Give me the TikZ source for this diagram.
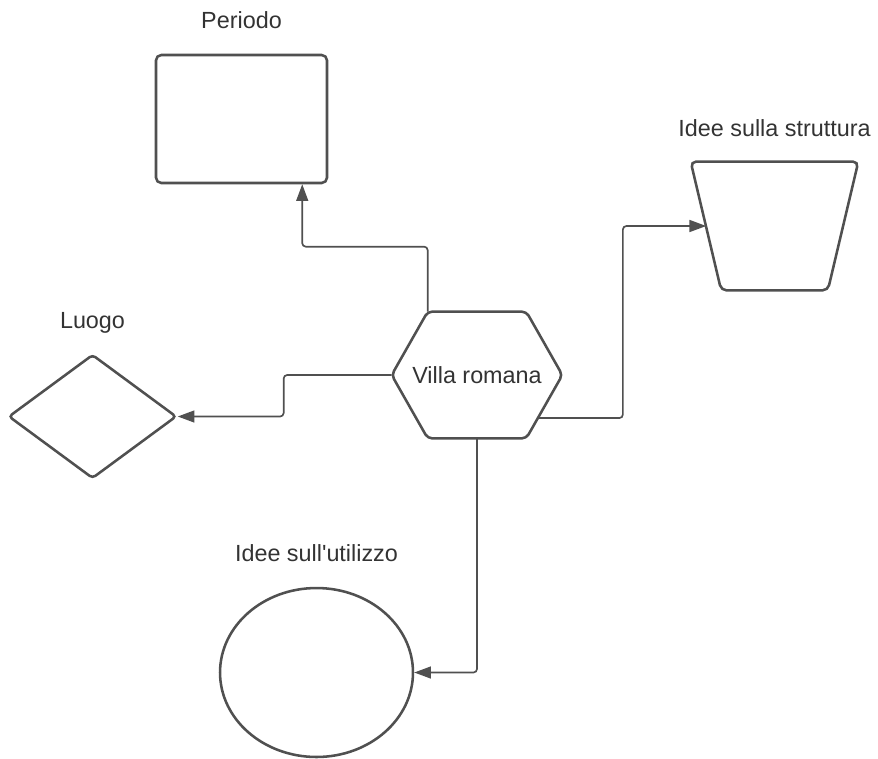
\documentclass[tikz,border=0pt]{standalone}
\usepackage{fontspec}
\setmainfont{Liberation Sans}
\usetikzlibrary{calc, positioning, shapes.geometric, arrows.meta}
\definecolor{linegray}{HTML}{505050}
\definecolor{textgray}{HTML}{333333}

\begin{document}
\begin{tikzpicture}[x=0.02cm, y=-0.02cm,
    shapebox/.style={draw=linegray, line width=1.45pt, inner sep=0pt},
    lbl/.style={text=textgray, font=\fontsize{13.3}{16}\selectfont, anchor=base},
    link/.style={draw=linegray, line width=0.95pt, rounded corners=2pt, -{Triangle[length=9.5pt, width=6.8pt]}}]
        % fixed frame
        \useasboundingbox (0,0) rectangle (878,758);

        % Draw the shapes
        \node[shapebox, rectangle, rounded corners=3pt, minimum width=3.42cm, minimum height=2.56cm] (periodo) at (241.5,119) {};
        \node[inner sep=0pt, minimum width=3.34cm, minimum height=2.56cm] (struttura) at (774.5,226) {};
        \node[shapebox, diamond, aspect=1.35, rounded corners=2pt, minimum width=3.36cm, minimum height=2.48cm] (luogo) at (92.5,416.5) {};
        \node[shapebox, ellipse, minimum width=3.86cm, minimum height=3.38cm] (utilizzo) at (316.5,672.5) {};
        \node[text=textgray, font=\fontsize{13.3}{16}\selectfont, inner sep=0pt, minimum width=3.4cm, minimum height=2.52cm] (villa) at (477,375) {Villa romana};

        % Trapezium, wide side up
        \draw[shapebox, rounded corners=3pt] (struttura.north west) -- (struttura.north east) -- ($(struttura.south east)+(-30.5,0)$) -- ($(struttura.south west)+(30.5,0)$) -- cycle;
        \coordinate (trapw) at ($(struttura.west)+(15.5,0)$);

        % Hexagon round the centre
        \coordinate (hexnw) at ($(villa.north west)+(36,0)$);
        \coordinate (hexne) at ($(villa.north east)+(-36,0)$);
        \coordinate (hexse) at ($(villa.south east)+(-36,0)$);
        \coordinate (hexsw) at ($(villa.south west)+(36,0)$);
        \draw[shapebox, rounded corners=2.5pt] (villa.west) -- (hexnw) -- (hexne) -- (villa.east) -- (hexse) -- (hexsw) -- cycle;
        \coordinate (rstart) at ($(villa.east)!0.68!(hexse)$);

        % Add text above the shapes
        \node[lbl] (periodolbl) at ($(periodo.north)+(0,-25)$) {Periodo};
        \node[lbl] (strutturalbl) at ($(struttura.north)+(0,-25)$) {Idee sulla struttura};
        \node[lbl] (luogolbl) at ($(luogo.north)+(0,-25)$) {Luogo};
        \node[lbl] (utilizzolbl) at ($(utilizzo.north)+(0,-25)$) {Idee sull\textquotesingle utilizzo};

        % Draw the connectors
        \draw[link] (hexnw) -- ++(0,-65) -| ($(periodo.south west)!0.85!(periodo.south east)$);
        \draw[link] (rstart) -- ++(85,0) |- (trapw);
        \draw[link] (villa.west) -- ++(-108,0) |- (luogo.east);
        \draw[link] (villa.south) |- (utilizzo.east);
    \end{tikzpicture}
\end{document}
